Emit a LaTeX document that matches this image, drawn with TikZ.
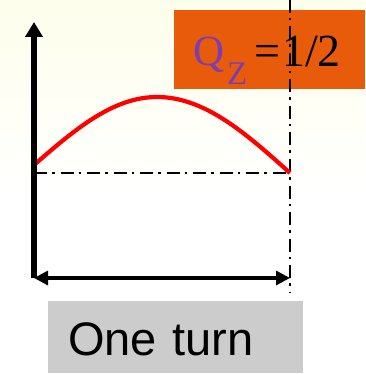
\documentclass[tikz,border=0pt]{standalone}
\usepackage{fontspec}
\setmainfont{Liberation Serif}
\newfontfamily\arialf{Liberation Sans}
\usetikzlibrary{arrows.meta}
\definecolor{bgtop}{HTML}{FEFEEC}
\definecolor{qorange}{HTML}{E85B0A}
\definecolor{qpurple}{HTML}{7A3EB0}
\definecolor{boxgray}{HTML}{CCCCCC}
\tikzset{
  axisline/.style={line width=5.5pt,-{Triangle[length=15pt,width=17pt]}},
  turnarrow/.style={line width=3.2pt,{Triangle[length=14pt,width=14pt]}-{Triangle[length=14pt,width=14pt]}},
  dashdotline/.style={line width=2.2pt,dash pattern=on 13pt off 5pt on 2.5pt off 6pt},
  redcurve/.style={line width=4.2pt,red,line join=round},
  orangebox/.style={fill=qorange,minimum width=191pt,minimum height=79pt,inner sep=0pt,anchor=north west},
  graybox/.style={fill=boxgray,minimum width=255pt,minimum height=72pt,inner ysep=0pt,inner xsep=20pt,
    text width=215pt,align=left,text height=36pt,text depth=0pt,anchor=north west,
    font=\arialf\fontsize{47}{50}\selectfont},
}
\begin{document}
\begin{tikzpicture}[x=1pt,y=-1pt]
\useasboundingbox (0,0) rectangle (365,374);
\shade[top color=bgtop,bottom color=white] (0,0) rectangle (365,200);
% coordinates
\coordinate (origin) at (34,278);
\coordinate (ytop) at (34,22);
\coordinate (xend) at (290,278);
\coordinate (levelL) at (34,173);
\coordinate (levelR) at (290,173);
\coordinate (vtop) at (290,0);
\coordinate (vbot) at (290,293);
% orange label box
\node[orangebox] (qbox) at (174,10) {};
\node[anchor=base west,inner sep=0pt,text=qpurple,font=\fontsize{43}{45}\selectfont] (qlab) at (193,66) {Q};
\node[anchor=base west,inner sep=0pt,text=qpurple,font=\fontsize{33}{35}\selectfont] (zlab) at (227,85) {Z};
\node[anchor=base west,inner sep=0pt,font=\fontsize{46}{50}\selectfont] (half) at (254,67) {=\hspace{2pt}1/2};
% gray label box
\node[graybox] (turn) at (48,301) {One turn};
% level line and period line
\draw[dashdotline] (levelL) -- (levelR);
\draw[dashdotline,line width=2.6pt] (vtop) -- (vbot);
% red curve
\draw[redcurve] plot[domain=34:157,samples=40] (\x,{97+68*(1-cos(90*(157-\x)/123))})
  -- plot[domain=157:290,samples=40] (\x,{97+76*(1-cos(90*(\x-157)/133))});
% axes
\draw[axisline] (origin) -- (ytop);
\draw[turnarrow] (origin) -- (xend);
\end{tikzpicture}
\end{document}
